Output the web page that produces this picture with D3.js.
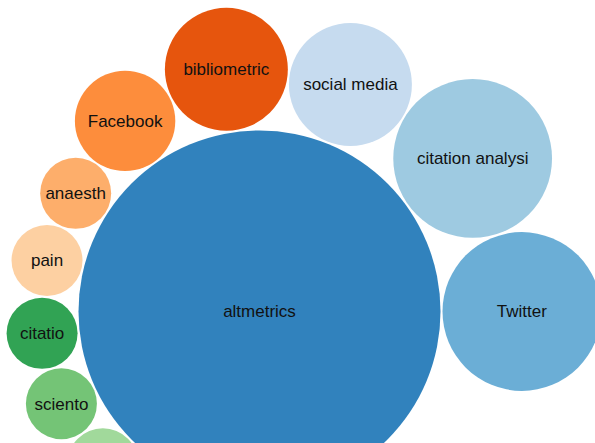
<!DOCTYPE html>
<html>
<head>
<meta charset="utf-8">
<script src="https://cdn.jsdelivr.net/npm/d3@7/dist/d3.min.js"></script>
<style>
  html, body { margin: 0; padding: 0; background: #fff; overflow: hidden; }
  svg { display: block; }
  text { font-family: "Liberation Sans", Arial, sans-serif; font-size: 17px; fill: #111; }
</style>
</head>
<body>
<svg id="chart" width="595" height="443"></svg>
<script>
// ---- data ----
const labels = ["altmetrics", "Twitter", "citation analysi", "social media", "bibliometric",
                "Facebook", "anaesth", "pain", "citatio", "sciento", "scientometr"];
const values = [26, 5, 5, 3, 3, 2, 1, 1, 1, 1, 1];
const displayed = [true, true, true, true, true, true, true, true, true, true, false];
const colors = ["#3182bd", "#6baed6", "#9ecae1", "#c6dbef", "#e6550d", "#fd8d3c",
                "#fdae6b", "#fdd0a2", "#31a354", "#74c476", "#a1d99b"];

const W = 595, H = 443;
const gap = 2;               // white space between neighbouring bubbles
const origin = [259.5, 311.5]; // where the pack's biggest bubble sits in the frame

const rScale = d3.scaleSqrt().domain([0, 1]).range([0, 35.5]);

const nodes = labels.map((l, i) => ({ label: l, value: values[i], color: colors[i],
                                      show: displayed[i], r: rScale(values[i]) }));

// front-chain packing around the largest bubble (classic d3 v3 pack behaviour):
// every bubble touches the big one and the previous bubble, going counter-clockwise.
function orbitPack(ns) {
  const A = ns[0];
  A.x = 0; A.y = 0;
  let theta = 0;
  for (let i = 1; i < ns.length; i++) {
    const c = ns[i];
    const di = A.r + c.r + gap;
    if (i > 1) {
      const p = ns[i - 1];
      const dp = A.r + p.r + gap;
      const s = p.r + c.r + gap;
      const cosPhi = (dp * dp + di * di - s * s) / (2 * dp * di);
      theta -= Math.acos(Math.max(-1, Math.min(1, cosPhi)));
    }
    c.x = di * Math.cos(theta);
    c.y = di * Math.sin(theta);
  }
  return ns;
}
orbitPack(nodes);

const svg = d3.select("#chart");
const g = svg.append("g").attr("transform", `translate(${origin[0]},${origin[1]})`);

const node = g.selectAll("g.node")
  .data(nodes)
  .join("g")
  .attr("class", "node")
  .attr("transform", d => `translate(${d.x},${d.y})`);

node.append("circle")
  .attr("r", d => d.r)
  .attr("fill", d => d.color);

node.filter(d => d.show).append("text")
  .attr("text-anchor", "middle")
  .attr("dy", "0.34em")
  .text(d => d.label);
</script>
</body>
</html>
